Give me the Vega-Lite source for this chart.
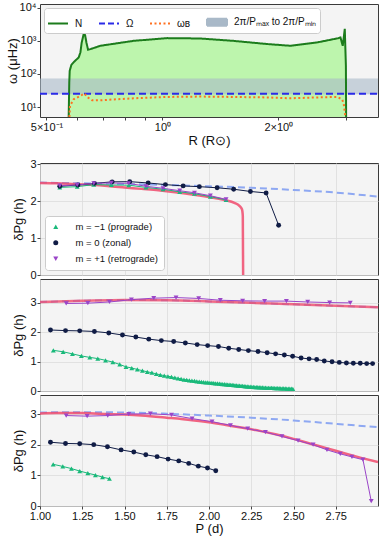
{
  "$schema": "https://vega.github.io/schema/vega-lite/v6.json",
  "padding": {"left": 5, "top": 1, "right": 4, "bottom": 4},
  "background": "white",
  "config": {
    "font": "Liberation Sans",
    "view": {"fill": "#f4f4f4", "stroke": "#3a3a3a", "strokeWidth": 1},
    "axis": {"labelFont": "Liberation Sans", "titleFont": "Liberation Sans", "labelFontSize": 11, "titleFontSize": 13, "titleFontWeight": "normal", "labelColor": "#111", "titleColor": "#111", "domain": false, "tickColor": "#444", "tickSize": 3, "labelPadding": 1, "gridColor": "#dcdcdc", "gridWidth": 0.8, "labelFlush": false, "labelOverlap": false},
    "legend": {"labelFont": "Liberation Sans", "labelFontSize": 11, "labelColor": "#111"}
  },
  "datasets": {
    "top": [
      {"R": 0.571, "w": 5, "s": "N"}, {"R": 0.573, "w": 55, "s": "N"}, {"R": 0.5745, "w": 124, "s": "N"}, {"R": 0.5802, "w": 188, "s": "N"}, {"R": 0.5907, "w": 238, "s": "N"}, {"R": 0.6062, "w": 315, "s": "N"}, {"R": 0.6124, "w": 446, "s": "N"}, {"R": 0.6172, "w": 896, "s": "N"}, {"R": 0.6246, "w": 1600, "s": "N"}, {"R": 0.6299, "w": 1500, "s": "N"}, {"R": 0.6348, "w": 896, "s": "N"}, {"R": 0.6412, "w": 537, "s": "N"}, {"R": 0.6501, "w": 562, "s": "N"}, {"R": 0.69, "w": 710, "s": "N"}, {"R": 0.841, "w": 1000, "s": "N"}, {"R": 1.03, "w": 1210, "s": "N"}, {"R": 1.255, "w": 1180, "s": "N"}, {"R": 1.529, "w": 1000, "s": "N"}, {"R": 1.874, "w": 800, "s": "N"}, {"R": 2.15, "w": 710, "s": "N"}, {"R": 2.527, "w": 900, "s": "N"}, {"R": 2.86, "w": 1200, "s": "N"}, {"R": 2.9, "w": 1270, "s": "N"}, {"R": 2.94, "w": 710, "s": "N"}, {"R": 2.976, "w": 2300, "s": "N"}, {"R": 2.996, "w": 175, "s": "N"}, {"R": 3.0, "w": 5, "s": "N"},
      {"R": 0.481, "w": 25.2, "s": "Ω"}, {"R": 3.63, "w": 25.2, "s": "Ω"},
      {"R": 0.5735, "w": 5, "s": "ωB"}, {"R": 0.5755, "w": 10.8, "s": "ωB"}, {"R": 0.5884, "w": 17.2, "s": "ωB"}, {"R": 0.6124, "w": 21.7, "s": "ωB"}, {"R": 0.6273, "w": 25.6, "s": "ωB"}, {"R": 0.6398, "w": 19.5, "s": "ωB"}, {"R": 0.6569, "w": 16, "s": "ωB"}, {"R": 0.69, "w": 16, "s": "ωB"}, {"R": 0.8423, "w": 18.4, "s": "ωB"}, {"R": 1.0285, "w": 20.2, "s": "ωB"}, {"R": 1.255, "w": 20.7, "s": "ωB"}, {"R": 1.532, "w": 20.2, "s": "ωB"}, {"R": 1.87, "w": 19.5, "s": "ωB"}, {"R": 2.15, "w": 18.4, "s": "ωB"}, {"R": 2.522, "w": 19.5, "s": "ωB"}, {"R": 2.842, "w": 20.2, "s": "ωB"}, {"R": 2.929, "w": 17.2, "s": "ωB"}, {"R": 2.958, "w": 12.4, "s": "ωB"}, {"R": 2.987, "w": 5, "s": "ωB"}
    ],
    "band": [{"lo": 24.2, "hi": 72.7, "s": "band"}],
    "th2": [
      {"P": 1.0, "v": 2.50, "c": "a"}, {"P": 1.25, "v": 2.48, "c": "a"}, {"P": 1.5, "v": 2.46, "c": "a"}, {"P": 1.75, "v": 2.435, "c": "a"}, {"P": 2.0, "v": 2.40, "c": "a"}, {"P": 2.25, "v": 2.36, "c": "a"}, {"P": 2.5, "v": 2.30, "c": "a"}, {"P": 2.75, "v": 2.23, "c": "a"}, {"P": 3.0, "v": 2.12, "c": "a"},
      {"P": 1.0, "v": 2.49, "c": "b"}, {"P": 1.1, "v": 2.48, "c": "b"}, {"P": 1.2, "v": 2.46, "c": "b"}, {"P": 1.3, "v": 2.44, "c": "b"}, {"P": 1.4, "v": 2.41, "c": "b"}, {"P": 1.5, "v": 2.37, "c": "b"}, {"P": 1.6, "v": 2.33, "c": "b"}, {"P": 1.7, "v": 2.29, "c": "b"}, {"P": 1.8, "v": 2.24, "c": "b"}, {"P": 1.9, "v": 2.18, "c": "b"}, {"P": 2.0, "v": 2.11, "c": "b"}, {"P": 2.05, "v": 2.07, "c": "b"}, {"P": 2.1, "v": 2.02, "c": "b"}, {"P": 2.15, "v": 1.95, "c": "b"}, {"P": 2.18, "v": 1.87, "c": "b"}, {"P": 2.195, "v": 1.78, "c": "b"}, {"P": 2.2, "v": 1.6, "c": "b"}, {"P": 2.202, "v": 0, "c": "b"}
    ],
    "th3": [
      {"P": 1.0, "v": 3.02, "c": "a"}, {"P": 1.25, "v": 3.06, "c": "a"}, {"P": 1.5, "v": 3.09, "c": "a"}, {"P": 1.75, "v": 3.08, "c": "a"}, {"P": 2.0, "v": 3.04, "c": "a"}, {"P": 2.25, "v": 2.99, "c": "a"}, {"P": 2.5, "v": 2.94, "c": "a"}, {"P": 2.75, "v": 2.89, "c": "a"}, {"P": 3.0, "v": 2.84, "c": "a"},
      {"P": 1.0, "v": 3.02, "c": "b"}, {"P": 1.25, "v": 3.06, "c": "b"}, {"P": 1.5, "v": 3.09, "c": "b"}, {"P": 1.75, "v": 3.08, "c": "b"}, {"P": 2.0, "v": 3.04, "c": "b"}, {"P": 2.25, "v": 2.99, "c": "b"}, {"P": 2.5, "v": 2.94, "c": "b"}, {"P": 2.75, "v": 2.89, "c": "b"}, {"P": 3.0, "v": 2.84, "c": "b"}
    ],
    "th4": [
      {"P": 1.0, "v": 3.05, "c": "a"}, {"P": 1.25, "v": 3.06, "c": "a"}, {"P": 1.5, "v": 3.05, "c": "a"}, {"P": 1.75, "v": 3.01, "c": "a"}, {"P": 2.0, "v": 2.95, "c": "a"}, {"P": 2.25, "v": 2.88, "c": "a"}, {"P": 2.5, "v": 2.79, "c": "a"}, {"P": 2.75, "v": 2.68, "c": "a"}, {"P": 3.0, "v": 2.57, "c": "a"},
      {"P": 1.0, "v": 3.02, "c": "b"}, {"P": 1.1, "v": 3.03, "c": "b"}, {"P": 1.25, "v": 3.03, "c": "b"}, {"P": 1.4, "v": 3.00, "c": "b"}, {"P": 1.5, "v": 2.98, "c": "b"}, {"P": 1.6, "v": 2.95, "c": "b"}, {"P": 1.75, "v": 2.88, "c": "b"}, {"P": 1.9, "v": 2.80, "c": "b"}, {"P": 2.0, "v": 2.73, "c": "b"}, {"P": 2.1, "v": 2.64, "c": "b"}, {"P": 2.2, "v": 2.55, "c": "b"}, {"P": 2.3, "v": 2.45, "c": "b"}, {"P": 2.4, "v": 2.33, "c": "b"}, {"P": 2.5, "v": 2.19, "c": "b"}, {"P": 2.6, "v": 2.03, "c": "b"}, {"P": 2.7, "v": 1.88, "c": "b"}, {"P": 2.8, "v": 1.72, "c": "b"}, {"P": 2.9, "v": 1.57, "c": "b"}, {"P": 3.0, "v": 1.43, "c": "b"}
    ],
    "pt2": [
      {"P": 1.117, "v": 2.37, "m": "-1"}, {"P": 1.22, "v": 2.39, "m": "-1"}, {"P": 1.318, "v": 2.445, "m": "-1"}, {"P": 1.422, "v": 2.435, "m": "-1"}, {"P": 1.525, "v": 2.43, "m": "-1"}, {"P": 1.627, "v": 2.37, "m": "-1"}, {"P": 1.728, "v": 2.32, "m": "-1"}, {"P": 1.827, "v": 2.25, "m": "-1"}, {"P": 1.914, "v": 2.2, "m": "-1"}, {"P": 2.008, "v": 2.12, "m": "-1"}, {"P": 2.101, "v": 2.03, "m": "-1"},
      {"P": 1.117, "v": 2.4, "m": "0"}, {"P": 1.224, "v": 2.435, "m": "0"}, {"P": 1.322, "v": 2.48, "m": "0"}, {"P": 1.427, "v": 2.52, "m": "0"}, {"P": 1.531, "v": 2.525, "m": "0"}, {"P": 1.64, "v": 2.49, "m": "0"}, {"P": 1.742, "v": 2.445, "m": "0"}, {"P": 1.847, "v": 2.41, "m": "0"}, {"P": 1.943, "v": 2.39, "m": "0"}, {"P": 2.048, "v": 2.36, "m": "0"}, {"P": 2.146, "v": 2.32, "m": "0"}, {"P": 2.245, "v": 2.26, "m": "0"}, {"P": 2.338, "v": 2.22, "m": "0"}, {"P": 2.412, "v": 1.345, "m": "0"},
      {"P": 1.117, "v": 2.42, "m": "+1"}, {"P": 1.22, "v": 2.435, "m": "+1"}, {"P": 1.318, "v": 2.48, "m": "+1"}, {"P": 1.422, "v": 2.49, "m": "+1"}, {"P": 1.525, "v": 2.48, "m": "+1"}, {"P": 1.627, "v": 2.4, "m": "+1"}, {"P": 1.728, "v": 2.345, "m": "+1"}, {"P": 1.827, "v": 2.28, "m": "+1"}, {"P": 1.914, "v": 2.225, "m": "+1"}, {"P": 2.008, "v": 2.145, "m": "+1"}, {"P": 2.101, "v": 2.045, "m": "+1"}
    ],
    "pt3": [
      {"P": 1.079, "v": 1.38, "m": "-1"}, {"P": 1.137, "v": 1.33, "m": "-1"}, {"P": 1.192, "v": 1.26, "m": "-1"}, {"P": 1.245, "v": 1.19, "m": "-1"}, {"P": 1.295, "v": 1.14, "m": "-1"}, {"P": 1.342, "v": 1.1, "m": "-1"}, {"P": 1.388, "v": 1.04, "m": "-1"}, {"P": 1.431, "v": 0.98, "m": "-1"}, {"P": 1.472, "v": 0.9, "m": "-1"}, {"P": 1.509, "v": 0.82, "m": "-1"}, {"P": 1.543, "v": 0.78, "m": "-1"}, {"P": 1.576, "v": 0.73, "m": "-1"}, {"P": 1.606, "v": 0.69, "m": "-1"}, {"P": 1.635, "v": 0.65, "m": "-1"}, {"P": 1.662, "v": 0.62, "m": "-1"}, {"P": 1.688, "v": 0.58, "m": "-1"}, {"P": 1.712, "v": 0.55, "m": "-1"}, {"P": 1.735, "v": 0.52, "m": "-1"}, {"P": 1.757, "v": 0.5, "m": "-1"}, {"P": 1.778, "v": 0.48, "m": "-1"}, {"P": 1.798, "v": 0.45, "m": "-1"}, {"P": 1.817, "v": 0.43, "m": "-1"}, {"P": 1.835, "v": 0.41, "m": "-1"}, {"P": 1.852, "v": 0.39, "m": "-1"}, {"P": 1.868, "v": 0.38, "m": "-1"}, {"P": 1.884, "v": 0.36, "m": "-1"}, {"P": 1.899, "v": 0.35, "m": "-1"}, {"P": 1.914, "v": 0.34, "m": "-1"}, {"P": 1.928, "v": 0.33, "m": "-1"}, {"P": 1.942, "v": 0.32, "m": "-1"}, {"P": 1.955, "v": 0.31, "m": "-1"}, {"P": 1.968, "v": 0.3, "m": "-1"}, {"P": 1.981, "v": 0.295, "m": "-1"}, {"P": 1.993, "v": 0.29, "m": "-1"}, {"P": 2.005, "v": 0.28, "m": "-1"}, {"P": 2.017, "v": 0.275, "m": "-1"}, {"P": 2.028, "v": 0.27, "m": "-1"}, {"P": 2.039, "v": 0.26, "m": "-1"}, {"P": 2.05, "v": 0.255, "m": "-1"}, {"P": 2.061, "v": 0.25, "m": "-1"}, {"P": 2.071, "v": 0.24, "m": "-1"}, {"P": 2.081, "v": 0.235, "m": "-1"}, {"P": 2.091, "v": 0.23, "m": "-1"}, {"P": 2.101, "v": 0.225, "m": "-1"}, {"P": 2.11, "v": 0.22, "m": "-1"}, {"P": 2.119, "v": 0.215, "m": "-1"}, {"P": 2.128, "v": 0.21, "m": "-1"}, {"P": 2.137, "v": 0.205, "m": "-1"}, {"P": 2.146, "v": 0.2, "m": "-1"}, {"P": 2.154, "v": 0.195, "m": "-1"}, {"P": 2.163, "v": 0.19, "m": "-1"}, {"P": 2.172, "v": 0.185, "m": "-1"}, {"P": 2.181, "v": 0.18, "m": "-1"}, {"P": 2.19, "v": 0.175, "m": "-1"}, {"P": 2.199, "v": 0.17, "m": "-1"}, {"P": 2.208, "v": 0.165, "m": "-1"}, {"P": 2.217, "v": 0.16, "m": "-1"}, {"P": 2.226, "v": 0.155, "m": "-1"}, {"P": 2.235, "v": 0.15, "m": "-1"}, {"P": 2.244, "v": 0.145, "m": "-1"}, {"P": 2.253, "v": 0.14, "m": "-1"}, {"P": 2.262, "v": 0.137, "m": "-1"}, {"P": 2.271, "v": 0.134, "m": "-1"}, {"P": 2.28, "v": 0.131, "m": "-1"}, {"P": 2.289, "v": 0.128, "m": "-1"}, {"P": 2.298, "v": 0.125, "m": "-1"}, {"P": 2.307, "v": 0.122, "m": "-1"}, {"P": 2.316, "v": 0.119, "m": "-1"}, {"P": 2.325, "v": 0.116, "m": "-1"}, {"P": 2.334, "v": 0.113, "m": "-1"}, {"P": 2.343, "v": 0.11, "m": "-1"}, {"P": 2.352, "v": 0.108, "m": "-1"}, {"P": 2.361, "v": 0.106, "m": "-1"}, {"P": 2.37, "v": 0.104, "m": "-1"}, {"P": 2.379, "v": 0.102, "m": "-1"}, {"P": 2.388, "v": 0.1, "m": "-1"}, {"P": 2.397, "v": 0.098, "m": "-1"}, {"P": 2.406, "v": 0.096, "m": "-1"}, {"P": 2.415, "v": 0.094, "m": "-1"}, {"P": 2.424, "v": 0.092, "m": "-1"}, {"P": 2.433, "v": 0.09, "m": "-1"}, {"P": 2.442, "v": 0.088, "m": "-1"}, {"P": 2.451, "v": 0.086, "m": "-1"}, {"P": 2.46, "v": 0.084, "m": "-1"}, {"P": 2.469, "v": 0.082, "m": "-1"}, {"P": 2.478, "v": 0.08, "m": "-1"}, {"P": 2.487, "v": 0.078, "m": "-1"}, {"P": 2.496, "v": 0.076, "m": "-1"},
      {"P": 1.062, "v": 2.07, "m": "0"}, {"P": 1.151, "v": 2.05, "m": "0"}, {"P": 1.235, "v": 2.04, "m": "0"}, {"P": 1.322, "v": 2.02, "m": "0"}, {"P": 1.407, "v": 1.97, "m": "0"}, {"P": 1.488, "v": 1.9, "m": "0"}, {"P": 1.567, "v": 1.83, "m": "0"}, {"P": 1.644, "v": 1.76, "m": "0"}, {"P": 1.718, "v": 1.71, "m": "0"}, {"P": 1.791, "v": 1.68, "m": "0"}, {"P": 1.86, "v": 1.63, "m": "0"}, {"P": 1.93, "v": 1.575, "m": "0"}, {"P": 1.992, "v": 1.54, "m": "0"}, {"P": 2.056, "v": 1.51, "m": "0"}, {"P": 2.117, "v": 1.45, "m": "0"}, {"P": 2.176, "v": 1.41, "m": "0"}, {"P": 2.233, "v": 1.37, "m": "0"}, {"P": 2.29, "v": 1.34, "m": "0"}, {"P": 2.344, "v": 1.3, "m": "0"}, {"P": 2.394, "v": 1.26, "m": "0"}, {"P": 2.446, "v": 1.22, "m": "0"}, {"P": 2.495, "v": 1.18, "m": "0"}, {"P": 2.545, "v": 1.12, "m": "0"}, {"P": 2.592, "v": 1.09, "m": "0"}, {"P": 2.637, "v": 1.07, "m": "0"}, {"P": 2.682, "v": 1.02, "m": "0"}, {"P": 2.728, "v": 0.99, "m": "0"}, {"P": 2.771, "v": 0.97, "m": "0"}, {"P": 2.813, "v": 0.95, "m": "0"}, {"P": 2.854, "v": 0.94, "m": "0"}, {"P": 2.895, "v": 0.94, "m": "0"}, {"P": 2.933, "v": 0.93, "m": "0"}, {"P": 2.968, "v": 0.93, "m": "0"},
      {"P": 1.155, "v": 2.97, "m": "+1"}, {"P": 1.283, "v": 2.98, "m": "+1"}, {"P": 1.411, "v": 3.02, "m": "+1"}, {"P": 1.541, "v": 3.1, "m": "+1"}, {"P": 1.673, "v": 3.15, "m": "+1"}, {"P": 1.805, "v": 3.17, "m": "+1"}, {"P": 1.939, "v": 3.14, "m": "+1"}, {"P": 2.067, "v": 3.08, "m": "+1"}, {"P": 2.199, "v": 3.06, "m": "+1"}, {"P": 2.329, "v": 3.05, "m": "+1"}, {"P": 2.458, "v": 3.05, "m": "+1"}, {"P": 2.584, "v": 3.02, "m": "+1"}, {"P": 2.714, "v": 3.0, "m": "+1"}, {"P": 2.836, "v": 2.99, "m": "+1"}
    ],
    "pt4": [
      {"P": 1.078, "v": 1.36, "m": "-1"}, {"P": 1.135, "v": 1.29, "m": "-1"}, {"P": 1.186, "v": 1.22, "m": "-1"}, {"P": 1.235, "v": 1.14, "m": "-1"}, {"P": 1.283, "v": 1.07, "m": "-1"}, {"P": 1.328, "v": 1.01, "m": "-1"}, {"P": 1.37, "v": 0.94, "m": "-1"}, {"P": 1.411, "v": 0.89, "m": "-1"},
      {"P": 1.062, "v": 2.08, "m": "0"}, {"P": 1.151, "v": 2.04, "m": "0"}, {"P": 1.235, "v": 2.03, "m": "0"}, {"P": 1.318, "v": 2.0, "m": "0"}, {"P": 1.399, "v": 1.93, "m": "0"}, {"P": 1.48, "v": 1.83, "m": "0"}, {"P": 1.555, "v": 1.76, "m": "0"}, {"P": 1.626, "v": 1.67, "m": "0"}, {"P": 1.693, "v": 1.61, "m": "0"}, {"P": 1.758, "v": 1.53, "m": "0"}, {"P": 1.821, "v": 1.47, "m": "0"}, {"P": 1.88, "v": 1.39, "m": "0"}, {"P": 1.937, "v": 1.3, "m": "0"}, {"P": 1.991, "v": 1.24, "m": "0"}, {"P": 2.04, "v": 1.15, "m": "0"},
      {"P": 1.155, "v": 2.95, "m": "+1"}, {"P": 1.279, "v": 2.93, "m": "+1"}, {"P": 1.401, "v": 2.95, "m": "+1"}, {"P": 1.525, "v": 3.0, "m": "+1"}, {"P": 1.653, "v": 3.01, "m": "+1"}, {"P": 1.778, "v": 2.97, "m": "+1"}, {"P": 1.9, "v": 2.85, "m": "+1"}, {"P": 2.018, "v": 2.75, "m": "+1"}, {"P": 2.127, "v": 2.63, "m": "+1"}, {"P": 2.229, "v": 2.52, "m": "+1"}, {"P": 2.334, "v": 2.41, "m": "+1"}, {"P": 2.432, "v": 2.27, "m": "+1"}, {"P": 2.527, "v": 2.13, "m": "+1"}, {"P": 2.616, "v": 2.0, "m": "+1"}, {"P": 2.698, "v": 1.83, "m": "+1"}, {"P": 2.777, "v": 1.7, "m": "+1"}, {"P": 2.846, "v": 1.6, "m": "+1"}, {"P": 2.911, "v": 1.51, "m": "+1"}, {"P": 2.96, "v": 0.16, "m": "+1"}
    ]
  },
  "spacing": 46,
  "bounds": "flush",
  "resolve": {"scale": {"color": "independent", "shape": "independent", "strokeDash": "independent"}, "legend": {"color": "independent", "shape": "independent"}},
  "vconcat": [
    {
      "width": 338,
      "height": 113,
      "encoding": {
        "x": {"field": "R", "type": "quantitative", "scale": {"type": "log", "domain": [0.481, 3.63], "nice": false},
          "axis": {"title": "R (R⊙)", "values": [0.5, 0.6, 0.7, 0.8, 0.9, 1, 2, 3], "labelExpr": "datum.value == 0.5 ? '5×10⁻¹' : datum.value == 1 ? '10⁰' : datum.value == 2 ? '2×10⁰' : ''", "grid": false, "titlePadding": 2}},
        "y": {"field": "w", "type": "quantitative", "scale": {"type": "log", "domain": [5, 13000], "nice": false},
          "axis": {"title": "ω (μHz)", "values": [10, 100, 1000, 10000], "labelExpr": "datum.value == 10 ? '10¹' : datum.value == 100 ? '10²' : datum.value == 1000 ? '10³' : '10⁴'", "grid": false, "minExtent": 20, "maxExtent": 20, "titlePadding": 1}}
      },
      "layer": [
        {
          "data": {"name": "top"},
          "transform": [{"filter": "datum.s == 'N'"}],
          "mark": {"type": "area", "color": "#bdf5ad", "opacity": 1, "clip": true},
          "encoding": {"y2": {"datum": 5}}
        },
        {
          "data": {"name": "band"},
          "mark": {"type": "rect", "opacity": 0.6},
          "encoding": {
            "x": null,
            "y": {"field": "lo", "type": "quantitative"},
            "y2": {"field": "hi"},
            "color": {"field": "s", "type": "nominal", "scale": {"domain": ["N", "Ω", "ωB", "band"], "range": ["#1c7c1c", "#2b2be8", "#ff7020", "#a9b9c8"]},
              "legend": {"orient": "top-left", "direction": "horizontal", "columns": 4, "title": null, "offset": 4, "padding": 3, "fillColor": "#ffffff", "strokeColor": "#cccccc", "cornerRadius": 3, "symbolSize": 400, "labelOffset": 6, "columnPadding": 12, "labelFontSize": 10,
                "labelExpr": "datum.value == 'band' ? '2π/Pₘₐₓ to 2π/Pₘᵢₙ' : datum.value == 'ωB' ? 'ωʙ' : datum.value",
                "encoding": {"symbols": {
                  "shape": {"value": {"expr": "datum.value == 'band' ? 'M-1,-0.35H1V0.35H-1Z' : 'M-1,0H1'"}},
                  "stroke": {"value": {"expr": "datum.value == 'N' ? '#1c7c1c' : datum.value == 'Ω' ? '#2b2be8' : datum.value == 'ωB' ? '#ff7020' : 'transparent'"}},
                  "fill": {"value": {"expr": "datum.value == 'band' ? '#c5d0da' : 'transparent'"}},
                  "strokeDash": {"value": {"expr": "datum.value == 'Ω' ? [6,3] : datum.value == 'ωB' ? [2,2.5] : [1,0]"}},
                  "strokeWidth": {"value": 2},
                  "opacity": {"value": 1}
                }}}}
          }
        },
        {
          "data": {"name": "top"},
          "mark": {"type": "line", "strokeWidth": 2, "clip": true},
          "encoding": {
            "color": {"field": "s", "type": "nominal", "scale": {"domain": ["N", "Ω", "ωB", "band"], "range": ["#1c7c1c", "#2b2be8", "#ff7020", "#a9b9c8"]},
              "legend": {"orient": "top-left", "direction": "horizontal", "columns": 4, "title": null, "offset": 4, "padding": 3, "fillColor": "#ffffff", "strokeColor": "#cccccc", "cornerRadius": 3, "symbolSize": 400, "labelOffset": 6, "columnPadding": 12, "labelFontSize": 10,
                "labelExpr": "datum.value == 'band' ? '2π/Pₘₐₓ to 2π/Pₘᵢₙ' : datum.value == 'ωB' ? 'ωʙ' : datum.value",
                "encoding": {"symbols": {
                  "shape": {"value": {"expr": "datum.value == 'band' ? 'M-1,-0.35H1V0.35H-1Z' : 'M-1,0H1'"}},
                  "stroke": {"value": {"expr": "datum.value == 'N' ? '#1c7c1c' : datum.value == 'Ω' ? '#2b2be8' : datum.value == 'ωB' ? '#ff7020' : 'transparent'"}},
                  "fill": {"value": {"expr": "datum.value == 'band' ? '#c5d0da' : 'transparent'"}},
                  "strokeDash": {"value": {"expr": "datum.value == 'Ω' ? [6,3] : datum.value == 'ωB' ? [2,2.5] : [1,0]"}},
                  "strokeWidth": {"value": 2},
                  "opacity": {"value": 1}
                }}}},
            "strokeDash": {"field": "s", "type": "nominal", "scale": {"domain": ["N", "Ω", "ωB"], "range": [[1, 0], [7, 4], [2, 2.5]]}, "legend": null}
          }
        }
      ]
    },
    {
      "spacing": 4,
      "bounds": "flush",
      "resolve": {"scale": {"color": "independent", "shape": "independent"}, "legend": {"color": "independent", "shape": "independent"}},
      "vconcat": [
        {
          "width": 338,
          "height": 112,
          "encoding": {
            "x": {"field": "P", "type": "quantitative", "scale": {"domain": [1, 3], "nice": false, "zero": false}, "axis": {"values": [1, 1.25, 1.5, 1.75, 2, 2.25, 2.5, 2.75], "labels": false, "ticks": false, "title": null, "grid": true}},
            "y": {"field": "v", "type": "quantitative", "scale": {"domain": [0, 3.03], "nice": false, "zero": false}, "axis": {"values": [0, 1, 2, 3], "title": "δPg (h)", "grid": true, "minExtent": 12, "maxExtent": 12, "titlePadding": 3}}
          },
          "layer": [
            {"data": {"name": "th2"}, "transform": [{"filter": "datum.c == 'a'"}], "mark": {"type": "line", "color": "#8ea8f2", "strokeWidth": 2, "strokeDash": [7, 4], "interpolate": "monotone", "clip": true}},
            {"data": {"name": "th2"}, "transform": [{"filter": "datum.c == 'b'"}], "mark": {"type": "line", "color": "#f04a6c", "strokeWidth": 2.5, "opacity": 0.85, "interpolate": "monotone", "clip": true}},
            {"data": {"name": "pt2"}, "transform": [{"filter": "datum.m == '-1'"}], "mark": {"type": "line", "strokeWidth": 1, "color": "#19b97a"}},
            {"data": {"name": "pt2"}, "transform": [{"filter": "datum.m == '0'"}], "mark": {"type": "line", "strokeWidth": 1, "color": "#101c45"}},
            {"data": {"name": "pt2"}, "transform": [{"filter": "datum.m == '+1'"}], "mark": {"type": "line", "strokeWidth": 1, "color": "#9a45c8"}},
            {"data": {"name": "pt2"}, "mark": {"type": "point", "filled": true, "size": 24, "opacity": 1},
              "encoding": {
                "color": {"field": "m", "type": "nominal", "scale": {"domain": ["-1", "0", "+1"], "range": ["#19b97a", "#101c45", "#9a45c8"]},
                  "legend": {"orient": "bottom-left", "title": null, "offset": 5, "padding": 6, "fillColor": "#ffffff", "strokeColor": "#cccccc", "cornerRadius": 3, "symbolSize": 25, "rowPadding": 5, "labelOffset": 15, "labelFontSize": 9.5,
                    "labelExpr": "datum.value == '-1' ? 'm = −1 (prograde)' : datum.value == '0' ? 'm =  0 (zonal)' : 'm = +1 (retrograde)'",
                    "encoding": {"symbols": {
                      "shape": {"value": {"expr": "datum.value == '-1' ? 'triangle-up' : datum.value == '0' ? 'circle' : 'triangle-down'"}},
                      "opacity": {"value": 1}
                    }}}},
                "shape": {"field": "m", "type": "nominal", "scale": {"domain": ["-1", "0", "+1"], "range": ["triangle-up", "circle", "triangle-down"]}, "legend": null}
              }},
            {"data": {"values": [{"t": "magnetic only"}]}, "mark": {"type": "text", "align": "right", "baseline": "top", "dx": -4, "dy": 3, "fontSize": 12, "color": "#111"},
              "encoding": {"x": {"datum": 3}, "y": {"datum": 3.03}, "text": {"field": "t"}}}
          ]
        },
        {
          "width": 338,
          "height": 112,
          "encoding": {
            "x": {"field": "P", "type": "quantitative", "scale": {"domain": [1, 3], "nice": false, "zero": false}, "axis": {"values": [1, 1.25, 1.5, 1.75, 2, 2.25, 2.5, 2.75], "labels": false, "ticks": false, "title": null, "grid": true}},
            "y": {"field": "v", "type": "quantitative", "scale": {"domain": [0, 3.8], "nice": false, "zero": false}, "axis": {"values": [0, 1, 2, 3], "title": "δPg (h)", "grid": true, "minExtent": 12, "maxExtent": 12, "titlePadding": 3}}
          },
          "layer": [
            {"data": {"name": "th3"}, "transform": [{"filter": "datum.c == 'a'"}], "mark": {"type": "line", "color": "#8ea8f2", "strokeWidth": 2, "strokeDash": [7, 4], "interpolate": "monotone", "clip": true}},
            {"data": {"name": "th3"}, "transform": [{"filter": "datum.c == 'b'"}], "mark": {"type": "line", "color": "#f04a6c", "strokeWidth": 2.5, "opacity": 0.8, "interpolate": "monotone", "clip": true}},
            {"data": {"name": "pt3"}, "transform": [{"filter": "datum.m == '-1'"}], "mark": {"type": "line", "strokeWidth": 1, "color": "#19b97a"}},
            {"data": {"name": "pt3"}, "transform": [{"filter": "datum.m == '0'"}], "mark": {"type": "line", "strokeWidth": 1, "color": "#101c45"}},
            {"data": {"name": "pt3"}, "transform": [{"filter": "datum.m == '+1'"}], "mark": {"type": "line", "strokeWidth": 1, "color": "#9a45c8"}},
            {"data": {"name": "pt3"}, "mark": {"type": "point", "filled": true, "size": 24, "opacity": 1},
              "encoding": {
                "color": {"field": "m", "type": "nominal", "scale": {"domain": ["-1", "0", "+1"], "range": ["#19b97a", "#101c45", "#9a45c8"]}, "legend": null},
                "shape": {"field": "m", "type": "nominal", "scale": {"domain": ["-1", "0", "+1"], "range": ["triangle-up", "circle", "triangle-down"]}, "legend": null}
              }},
            {"data": {"values": [{"t": "rotating only"}]}, "mark": {"type": "text", "align": "right", "baseline": "top", "dx": -4, "dy": 3, "fontSize": 12, "color": "#111"},
              "encoding": {"x": {"datum": 3}, "y": {"datum": 3.8}, "text": {"field": "t"}}}
          ]
        },
        {
          "width": 338,
          "height": 111,
          "encoding": {
            "x": {"field": "P", "type": "quantitative", "scale": {"domain": [1, 3], "nice": false, "zero": false}, "axis": {"values": [1, 1.25, 1.5, 1.75, 2, 2.25, 2.5, 2.75], "format": ".2f", "title": "P (d)", "grid": true, "titlePadding": 1}},
            "y": {"field": "v", "type": "quantitative", "scale": {"domain": [0, 3.62], "nice": false, "zero": false}, "axis": {"values": [0, 1, 2, 3], "title": "δPg (h)", "grid": true, "minExtent": 12, "maxExtent": 12, "titlePadding": 3}}
          },
          "layer": [
            {"data": {"name": "th4"}, "transform": [{"filter": "datum.c == 'a'"}], "mark": {"type": "line", "color": "#8ea8f2", "strokeWidth": 2, "strokeDash": [7, 4], "interpolate": "monotone", "clip": true}},
            {"data": {"name": "th4"}, "transform": [{"filter": "datum.c == 'b'"}], "mark": {"type": "line", "color": "#f04a6c", "strokeWidth": 2.5, "opacity": 0.85, "interpolate": "monotone", "clip": true}},
            {"data": {"name": "pt4"}, "transform": [{"filter": "datum.m == '-1'"}], "mark": {"type": "line", "strokeWidth": 1, "color": "#19b97a"}},
            {"data": {"name": "pt4"}, "transform": [{"filter": "datum.m == '0'"}], "mark": {"type": "line", "strokeWidth": 1, "color": "#101c45"}},
            {"data": {"name": "pt4"}, "transform": [{"filter": "datum.m == '+1'"}], "mark": {"type": "line", "strokeWidth": 1, "color": "#9a45c8"}},
            {"data": {"name": "pt4"}, "mark": {"type": "point", "filled": true, "size": 24, "opacity": 1},
              "encoding": {
                "color": {"field": "m", "type": "nominal", "scale": {"domain": ["-1", "0", "+1"], "range": ["#19b97a", "#101c45", "#9a45c8"]}, "legend": null},
                "shape": {"field": "m", "type": "nominal", "scale": {"domain": ["-1", "0", "+1"], "range": ["triangle-up", "circle", "triangle-down"]}, "legend": null}
              }},
            {"data": {"values": [{"t": "magnetic and rotating"}]}, "mark": {"type": "text", "align": "right", "baseline": "top", "dx": -4, "dy": 3, "fontSize": 12, "color": "#111"},
              "encoding": {"x": {"datum": 3}, "y": {"datum": 3.62}, "text": {"field": "t"}}}
          ]
        }
      ]
    }
  ]
}
